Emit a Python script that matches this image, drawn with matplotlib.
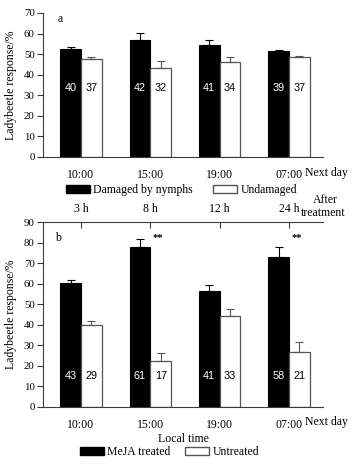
import numpy as np
import matplotlib
matplotlib.use('Agg')
import matplotlib.pyplot as plt
from matplotlib.patches import Patch

# data
times = ['10:00', '15:00', '19:00', '07:00']
hours = ['3 h', '8 h', '12 h', '24 h']

dmg_mean = [52.5, 56.9, 54.3, 51.7]
dmg_err = [1.0, 3.4, 2.6, 0.3]
und_mean = [47.6, 43.3, 46.0, 48.6]
und_err = [1.0, 3.5, 2.6, 0.3]
dmg_n = [40, 42, 41, 39]
und_n = [37, 32, 34, 37]

meja_mean = [60.1, 78.0, 56.2, 73.2]
meja_err = [1.5, 3.7, 3.1, 4.8]
untr_mean = [40.0, 22.2, 44.3, 27.0]
untr_err = [1.6, 3.9, 3.3, 4.5]
meja_n = [43, 61, 41, 58]
untr_n = [29, 17, 33, 21]
signif = ['', '**', '', '**']

W, H = 353, 468
serif = 'Liberation Serif'
sans = 'Liberation Sans'
plt.rcParams['font.family'] = serif
edge = '#3a3a3a'
fs = 8.5

fig = plt.figure(figsize=(W / 100, H / 100), dpi=100)

def fx(px):
    return px / W

def fy(py):
    return 1 - py / H

x = np.arange(len(times))
bw = 0.30


def panel(ax, m1, e1, m2, e2, n1, n2, top, ny):
    zeros = [0] * len(x)
    ax.bar(x - bw / 2, m1, bw, color='black', edgecolor='black', lw=0.8,
           yerr=[zeros, e1], error_kw=dict(ecolor='black', elinewidth=0.8, capsize=3, capthick=0.8))
    ax.bar(x + bw / 2, m2, bw, color='white', edgecolor='#555555', lw=0.9,
           yerr=[zeros, e2], error_kw=dict(ecolor='#555555', elinewidth=0.8, capsize=3, capthick=0.8))
    for i in range(len(x)):
        ax.text(x[i] - bw / 2, ny, str(n1[i]), color='white', ha='center', va='center',
                family=sans, fontsize=7.8)
        ax.text(x[i] + bw / 2, ny, str(n2[i]), color='black', ha='center', va='center',
                family=sans, fontsize=7.8)
    ax.set_xlim(-0.548, 3.49)
    ax.set_ylim(0, top)
    ax.set_yticks(np.arange(0, top + 1, 10))
    ax.set_xticks(x)
    ax.set_xticklabels(times, fontsize=fs)
    ax.tick_params(axis='x', length=0, pad=9)
    ax.tick_params(axis='y', direction='out', length=4, width=0.8, labelsize=7.8, pad=2, color=edge)
    for s in ['left', 'bottom', 'top', 'right']:
        ax.spines[s].set_color(edge)
        ax.spines[s].set_linewidth(0.8)
    ax.spines['right'].set_visible(False)
    ax.set_ylabel('Ladybeetle response/%', fontsize=fs, labelpad=5)


def legend(labels, left, yc, colsp):
    fig.legend(handles=[Patch(facecolor='black', edgecolor='black'),
                        Patch(facecolor='white', edgecolor='#555555')],
               labels=labels, loc='center left', bbox_to_anchor=(fx(left), fy(yc)),
               ncol=2, frameon=False, fontsize=fs, handlelength=2.0, handleheight=0.6,
               handletextpad=0.3, columnspacing=colsp, borderpad=0, borderaxespad=0)


# panel a
ax1 = fig.add_axes([fx(43), fy(157), fx(280), 144 / H])
panel(ax1, dmg_mean, dmg_err, und_mean, und_err, dmg_n, und_n, 70, 33.5)
ax1.spines['top'].set_visible(False)
ax1.text(0.062, 0.96, 'a', transform=ax1.transAxes, fontsize=fs, ha='center', va='center')
fig.text(fx(305), fy(173), 'Next day', fontsize=fs, va='center')
legend(['Damaged by nymphs', 'Undamaged'], 66, 190, 1.75)

# panel b
ax2 = fig.add_axes([fx(43), fy(407), fx(280), 185 / H])
panel(ax2, meja_mean, meja_err, untr_mean, untr_err, meja_n, untr_n, 90, 15)
ax2.set_xlabel('Local time', fontsize=fs, labelpad=1)
ax2.text(0.055, 0.915, 'b', transform=ax2.transAxes, fontsize=fs, ha='center', va='center')
for i in range(len(x)):
    if signif[i]:
        ax2.text(x[i] + 0.11, 82.3, signif[i], fontsize=7.5, ha='center', va='center', weight='bold')
top = ax2.secondary_xaxis('top')
top.set_xticks(x)
top.set_xticklabels(hours, fontsize=fs)
top.tick_params(axis='x', direction='in', length=4, width=0.8, pad=5, color=edge)
top.spines['top'].set_visible(False)
fig.text(fx(305), fy(422), 'Next day', fontsize=fs, va='center')
fig.text(fx(325), fy(200), 'After', fontsize=fs, ha='center', va='center')
fig.text(fx(301), fy(213), 'treatment', fontsize=fs, ha='left', va='center')
legend(['MeJA treated', 'Untreated'], 80, 452, 1.25)

fig.savefig('out.png', dpi=100)
